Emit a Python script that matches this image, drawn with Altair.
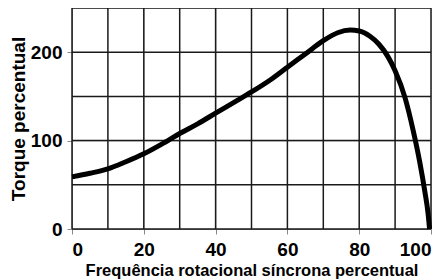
import altair as alt
import pandas as pd

freq = [0, 5, 10, 15, 20, 25, 30, 35, 40, 45, 50, 55, 60, 65, 70, 74, 77.5, 80, 83, 85.5, 88, 90, 92.8, 95, 96.9, 98.3, 99.2, 99.6]
torque = [59, 63, 68, 76, 85, 96, 108, 119, 131, 143, 155, 168, 183, 198, 213, 222, 225, 224, 218, 209, 195, 179, 148, 112, 75, 42, 17, 0]

df = pd.DataFrame({"f": freq, "t": torque})

FONT = "Liberation Sans"

line = alt.Chart(df).mark_line(color="black", strokeWidth=5, interpolate="monotone").encode(
    x=alt.X("f:Q",
            scale=alt.Scale(domain=[0, 100], nice=False),
            axis=alt.Axis(values=[0, 20, 40, 60, 80, 100],
                          title="Frequência rotacional síncrona percentual",
                          titleFontSize=16.5, titlePadding=3,
                          labelFontSize=19, labelPadding=6,
                          labelFontWeight="bold", titleFontWeight="bold")),
    y=alt.Y("t:Q",
            scale=alt.Scale(domain=[0, 250], nice=False),
            axis=alt.Axis(values=[0, 100, 200],
                          title="Torque percentual",
                          titleFontSize=19, titlePadding=2,
                          labelFontSize=19, labelPadding=5,
                          labelFontWeight="bold", titleFontWeight="bold")),
)

# grid lines (every 10 on x, every 50 on y)
gx = pd.DataFrame({"v": list(range(0, 101, 10))})
gy = pd.DataFrame({"v": list(range(0, 251, 50))})
vgrid = alt.Chart(gx).mark_rule(color="#1a1a1a", strokeWidth=1.5).encode(x="v:Q")
hgrid = alt.Chart(gy).mark_rule(color="#1a1a1a", strokeWidth=1.5).encode(y="v:Q")

chart = alt.layer(vgrid, hgrid, line).properties(
    width=359, height=221,
    autosize=alt.AutoSizeParams(type="none"),
    padding={"left": 64, "top": 0, "right": 8, "bottom": 50},
).configure_axis(
    grid=False, ticks=False,
    domainColor="black", domainWidth=2.5,
    labelColor="black", titleColor="black",
    labelFont=FONT, titleFont=FONT,
).configure_view(stroke="black", strokeWidth=2).configure(background="white")

chart.save("out.html", embed_options={"renderer": "svg", "actions": False})
